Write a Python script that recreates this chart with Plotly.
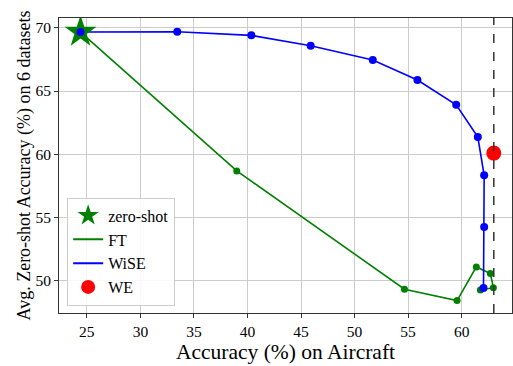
import plotly.graph_objects as go

# Data
zs_x = [24.41]
zs_y = [69.66]

ft_x = [24.41, 39.0, 54.66, 59.57, 61.37, 62.68, 62.96, 61.75]
ft_y = [69.66, 58.69, 49.35, 48.45, 51.11, 50.58, 49.47, 49.28]

wise_x = [24.41, 33.44, 40.36, 45.9, 51.7, 55.87, 59.49, 61.51, 62.1, 62.1, 62.04]
wise_y = [69.66, 69.68, 69.40, 68.58, 67.45, 65.87, 63.92, 61.37, 58.35, 54.27, 49.45]

we_x = [63.0]
we_y = [60.1]

ref_x = 63.0

x_ticks = [25, 30, 35, 40, 45, 50, 55, 60]
y_ticks = [50, 55, 60, 65, 70]

FONT = "Liberation Serif"

fig = go.Figure()

fig.add_trace(go.Scatter(x=ft_x, y=ft_y, mode="lines+markers",
                         line=dict(color="#008000", width=1.6),
                         marker=dict(color="#008000", size=7),
                         showlegend=False))
fig.add_trace(go.Scatter(x=wise_x, y=wise_y, mode="lines+markers",
                         line=dict(color="#0000ff", width=1.6),
                         marker=dict(color="#0000ff", size=8),
                         showlegend=False))
fig.add_trace(go.Scatter(x=zs_x, y=zs_y, mode="markers",
                         marker=dict(symbol="star", color="#008000", size=24),
                         showlegend=False))
fig.add_trace(go.Scatter(x=we_x, y=we_y, mode="markers",
                         marker=dict(color="#ff0000", size=15),
                         showlegend=False))
fig.add_trace(go.Scatter(x=wise_x[:1], y=wise_y[:1], mode="markers",
                         marker=dict(color="#0000ff", size=8),
                         showlegend=False))

# Legend entries
fig.add_trace(go.Scatter(x=[None], y=[None], mode="markers", name="zero-shot",
                         marker=dict(symbol="star", color="#008000", size=20)))
fig.add_trace(go.Scatter(x=[None], y=[None], mode="lines", name="FT",
                         line=dict(color="#008000", width=2)))
fig.add_trace(go.Scatter(x=[None], y=[None], mode="lines", name="WiSE",
                         line=dict(color="#0000ff", width=2)))
fig.add_trace(go.Scatter(x=[None], y=[None], mode="markers", name="WE",
                         marker=dict(color="#ff0000", size=14)))

fig.add_shape(type="line", xref="x", yref="paper", x0=ref_x, x1=ref_x, y0=0, y1=1,
              line=dict(color="#333333", width=1.5, dash="dash"))

axis_common = dict(showgrid=True, gridcolor="#cccccc", gridwidth=1,
                   showline=True, linecolor="#333333", linewidth=1, mirror=True,
                   ticks="outside", ticklen=4, tickcolor="#333333",
                   tickfont=dict(family=FONT, size=15.5, color="black"),
                   zeroline=False, automargin=False)

fig.update_xaxes(range=[22.4, 64.7], tickvals=x_ticks,
                 title=dict(text="Accuracy (%) on Aircraft",
                            font=dict(family=FONT, size=21.5, color="black"), standoff=2),
                 **axis_common)
fig.update_yaxes(range=[47.47, 70.77], tickvals=y_ticks,
                 title=dict(text="Avg. Zero-shot Accuracy (%) on 6 datasets",
                            font=dict(family=FONT, size=18, color="black"), standoff=0),
                 **axis_common)

fig.update_layout(
    width=513, height=366,
    margin=dict(l=59, r=1, t=18, b=53, autoexpand=False),
    plot_bgcolor="white", paper_bgcolor="white",
    font=dict(family=FONT, color="black"),
    legend=dict(x=0.018, y=0.025, xanchor="left", yanchor="bottom",
                bgcolor="rgba(255,255,255,0.85)", bordercolor="#cccccc", borderwidth=1,
                font=dict(family=FONT, size=16, color="black"),
                itemsizing="trace", tracegroupgap=0),
)

fig.write_html("out.html", config={"displayModeBar": False},
               post_script="document.body.style.margin='0';document.body.style.overflow='hidden';")
